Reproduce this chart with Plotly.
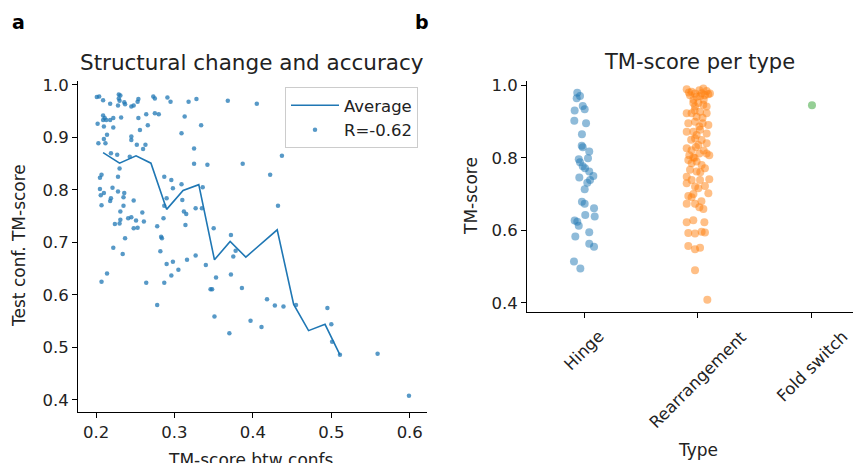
import plotly.graph_objects as go

# ---------------- Panel a data ----------------
tm_btw_confs = [
    0.201, 0.204, 0.209, 0.218, 0.229, 0.231, 0.229, 0.230, 0.228, 0.236, 0.237, 0.245, 0.248, 0.254, 0.253, 0.273, 0.275, 0.291, 0.295, 0.318, 0.328, 0.368, 0.405,
    0.209, 0.211, 0.209, 0.213, 0.218, 0.222, 0.232, 0.202, 0.210, 0.222, 0.254, 0.264, 0.275, 0.280, 0.266, 0.256, 0.313, 0.334, 0.309,
    0.214, 0.210, 0.212, 0.203, 0.245, 0.245, 0.252, 0.260, 0.263, 0.325,
    0.219, 0.227, 0.243, 0.325, 0.342, 0.387, 0.230, 0.437, 0.422,
    0.207, 0.205, 0.228, 0.287, 0.296, 0.298, 0.205, 0.210, 0.206, 0.221, 0.228, 0.236, 0.235, 0.219, 0.218, 0.207, 0.235, 0.248, 0.287, 0.290, 0.309, 0.310, 0.336, 0.432,
    0.231, 0.259, 0.241, 0.245, 0.251, 0.261, 0.224, 0.230, 0.231, 0.248, 0.253, 0.278, 0.286, 0.312, 0.315, 0.314, 0.327, 0.335, 0.350, 0.372,
    0.283, 0.284, 0.237, 0.222, 0.234, 0.282, 0.378, 0.375, 0.290, 0.298, 0.305, 0.296, 0.316, 0.327, 0.340, 0.214, 0.207, 0.264, 0.287, 0.353, 0.372,
    0.346, 0.348, 0.386, 0.278, 0.351, 0.370, 0.397, 0.411, 0.418, 0.428, 0.439, 0.455, 0.495, 0.500, 0.501, 0.511, 0.559, 0.599,
]
test_tm = [
    0.977, 0.978, 0.971, 0.964, 0.982, 0.980, 0.974, 0.970, 0.961, 0.967, 0.963, 0.959, 0.961, 0.973, 0.968, 0.978, 0.974, 0.976, 0.968, 0.968, 0.973, 0.970, 0.964,
    0.942, 0.937, 0.933, 0.933, 0.933, 0.937, 0.938, 0.926, 0.921, 0.919, 0.937, 0.944, 0.946, 0.944, 0.923, 0.914, 0.940, 0.923, 0.908,
    0.905, 0.897, 0.889, 0.889, 0.902, 0.895, 0.886, 0.878, 0.886, 0.879,
    0.870, 0.867, 0.863, 0.850, 0.848, 0.850, 0.841, 0.865, 0.829,
    0.829, 0.823, 0.825, 0.825, 0.819, 0.803, 0.802, 0.794, 0.790, 0.804, 0.797, 0.794, 0.786, 0.784, 0.779, 0.771, 0.770, 0.780, 0.770, 0.784, 0.811, 0.781, 0.805, 0.770,
    0.759, 0.757, 0.746, 0.748, 0.742, 0.740, 0.735, 0.736, 0.743, 0.727, 0.728, 0.731, 0.746, 0.759, 0.754, 0.733, 0.765, 0.765, 0.727, 0.714,
    0.711, 0.708, 0.708, 0.690, 0.678, 0.683, 0.684, 0.673, 0.659, 0.663, 0.648, 0.637, 0.667, 0.675, 0.657, 0.641, 0.625, 0.623, 0.623, 0.633, 0.639,
    0.611, 0.611, 0.613, 0.581, 0.559, 0.527, 0.551, 0.539, 0.592, 0.580, 0.578, 0.581, 0.575, 0.544, 0.511, 0.486, 0.488, 0.408,
]
avg_x = [0.209, 0.230, 0.251, 0.270, 0.290, 0.311, 0.331, 0.351, 0.371, 0.391, 0.431, 0.452, 0.471, 0.492, 0.511]
avg_y = [0.871, 0.851, 0.865, 0.851, 0.763, 0.799, 0.810, 0.667, 0.702, 0.672, 0.724, 0.582, 0.532, 0.544, 0.486]
r_label = "R=-0.62"

# ---------------- Panel b data ----------------
types = ["Hinge", "Rearrangement", "Fold switch"]
hinge_tm = [0.979, 0.970, 0.964, 0.943, 0.934, 0.930, 0.902, 0.895, 0.865, 0.833, 0.829, 0.817, 0.799, 0.796, 0.788,
            0.777, 0.771, 0.746, 0.762, 0.750, 0.739, 0.731, 0.713, 0.679, 0.673, 0.661, 0.638, 0.642, 0.627, 0.624,
            0.613, 0.595, 0.583, 0.563, 0.555, 0.514, 0.495]
hinge_jitter = [-0.059, -0.035, -0.064, -0.011, 0.006, -0.082, -0.085, 0.018, -0.018, -0.020, -0.011, 0.046, 0.035, -0.046, -0.035,
                -0.011, 0.009, -0.041, 0.046, 0.082, 0.053, 0.029, 0.006, -0.018, 0.006, 0.088, 0.094, 0.011, -0.082, -0.059,
                -0.046, 0.046, -0.076, 0.046, 0.088, -0.088, -0.032]
rearr_tm = [0.989, 0.982, 0.977, 0.986, 0.991, 0.984, 0.977, 0.972, 0.968, 0.972, 0.978, 0.960,
            0.951, 0.951, 0.946, 0.941, 0.941, 0.923, 0.923, 0.927, 0.923, 0.913,
            0.895, 0.899, 0.895, 0.890, 0.886, 0.872, 0.872, 0.877, 0.867, 0.863,
            0.853, 0.849, 0.840, 0.835, 0.826, 0.821, 0.830, 0.807, 0.801, 0.812, 0.812, 0.807,
            0.794, 0.785, 0.790, 0.780, 0.771, 0.767, 0.762, 0.748, 0.739, 0.739, 0.741,
            0.721, 0.722, 0.702, 0.730, 0.716, 0.695, 0.691, 0.673, 0.673, 0.664, 0.659,
            0.622, 0.628, 0.622, 0.593, 0.591, 0.596, 0.594, 0.557, 0.548, 0.552, 0.490, 0.409,
            0.975, 0.980, 0.970, 0.960, 0.930, 0.910, 0.850, 0.820, 0.800, 0.760, 0.700, 0.680]
rearr_jitter = [-0.099, -0.056, -0.026, 0.012, 0.047, 0.076, 0.105, 0.061, -0.012, -0.070, 0.032, -0.040,
                -0.041, 0.003, 0.047, 0.076, -0.026, -0.099, -0.056, 0.018, 0.076, -0.012,
                -0.085, -0.026, 0.041, 0.091, 0.012, -0.099, -0.041, 0.018, 0.076, -0.012,
                -0.026, 0.032, 0.076, 0.003, -0.099, -0.056, -0.018, -0.076, -0.041, 0.012, 0.076, 0.099,
                -0.085, -0.056, -0.012, 0.032, 0.061, -0.070, -0.012, -0.099, -0.056, 0.018, 0.099,
                -0.026, 0.061, 0.091, -0.099, 0.003, -0.085, -0.056, -0.099, -0.026, 0.012, 0.047,
                -0.099, -0.041, 0.056, -0.085, -0.026, 0.032, 0.061, -0.085, -0.026, 0.018, -0.026, 0.082,
                0.090, -0.080, 0.020, 0.050, -0.030, 0.040, -0.060, 0.050, -0.030, 0.020, -0.040, 0.030]
fold_tm = [0.945]
fold_jitter = [0.0]

BLUE, ORANGE, GREEN = "#1f77b4", "#ff7f0e", "#2ca02c"
FONT = "DejaVu Sans"
OFF = 8            # page body margin of the browser
W, H = 861 - OFF, 463 - OFF

def px(xs):
    return (xs - OFF) / W

def py(ys):
    return (H - (ys - OFF)) / H

fig = go.Figure()

fig.add_trace(go.Scatter(x=tm_btw_confs, y=test_tm, mode="markers", name=r_label,
                         marker=dict(color=BLUE, size=4.5, opacity=0.75, line=dict(width=0)),
                         xaxis="x", yaxis="y", legendrank=2))
fig.add_trace(go.Scatter(x=avg_x, y=avg_y, mode="lines", name="Average",
                         line=dict(color=BLUE, width=1.6),
                         xaxis="x", yaxis="y", legendrank=1))

fig.add_trace(go.Scatter(x=[0 + j for j in hinge_jitter], y=hinge_tm, mode="markers", showlegend=False,
                         marker=dict(color=BLUE, size=8, opacity=0.5, line=dict(width=0)),
                         xaxis="x2", yaxis="y2"))
fig.add_trace(go.Scatter(x=[1 + j for j in rearr_jitter], y=rearr_tm, mode="markers", showlegend=False,
                         marker=dict(color=ORANGE, size=8, opacity=0.5, line=dict(width=0)),
                         xaxis="x2", yaxis="y2"))
fig.add_trace(go.Scatter(x=[2 + j for j in fold_jitter], y=fold_tm, mode="markers", showlegend=False,
                         marker=dict(color=GREEN, size=8, opacity=0.5, line=dict(width=0)),
                         xaxis="x2", yaxis="y2"))

axis_common = dict(showline=True, linecolor="black", linewidth=1, ticks="outside", ticklen=5,
                   tickwidth=1, tickcolor="black", showgrid=False, zeroline=False,
                   tickfont=dict(family=FONT, size=16.5, color="#222"), automargin=False)

fig.update_layout(
    width=W, height=H,
    margin=dict(l=0, r=0, t=0, b=0),
    paper_bgcolor="white", plot_bgcolor="white",
    font=dict(family=FONT, color="#222"),
    xaxis=dict(domain=[px(78), px(427)], range=[0.177, 0.622],
               tickvals=[0.2, 0.3, 0.4, 0.5, 0.6], ticktext=["0.2", "0.3", "0.4", "0.5", "0.6"],
               **axis_common),
    yaxis=dict(domain=[py(412), py(81)], range=[0.377, 1.0075],
               tickvals=[0.4, 0.5, 0.6, 0.7, 0.8, 0.9, 1.0],
               ticktext=["0.4", "0.5", "0.6", "0.7", "0.8", "0.9", "1.0"],
               **axis_common),
    xaxis2=dict(domain=[px(527), 1.0], range=[-0.5, 2.43], tickvals=[0, 1, 2],
                showticklabels=False, anchor="y2", **axis_common),
    yaxis2=dict(domain=[py(312), py(81)], range=[0.375, 1.0116], tickvals=[0.4, 0.6, 0.8, 1.0],
                ticktext=["0.4", "0.6", "0.8", "1.0"], anchor="x2", **axis_common),
    legend=dict(x=px(418), xanchor="right", y=py(87), yanchor="top",
                bordercolor="#cccccc", borderwidth=1, bgcolor="white",
                font=dict(family=FONT, size=16.5, color="#222"), itemwidth=48,
                tracegroupgap=0),
    showlegend=True,
)

def note(text, xs, ys, size, angle=0, bold=False):
    return dict(text=f"<b>{text}</b>" if bold else text, x=px(xs), y=py(ys),
                xref="paper", yref="paper", xanchor="center", yanchor="middle",
                textangle=angle, showarrow=False,
                font=dict(family=FONT, size=size, color="black" if bold else "#222"))

ann = [
    note("a", 18, 22, 19, bold=True),
    note("b", 422, 22, 19, bold=True),
    note("Structural change and accuracy", 252, 62, 21.5),
    note("TM-score per type", 699, 62, 21),
    note("Test conf. TM-score", 19, 246, 17, angle=-90),
    note("TM-score", 471, 196, 17, angle=-90),
    note("TM-score btw confs.", 253, 460, 17),
    note("Type", 698, 450, 17),
]
for i, t in enumerate(types):
    ann.append(dict(text=t, x=i, y=py(324), xref="x2", yref="paper", xanchor="center", yanchor="top",
                    textangle=-45, showarrow=False, font=dict(family=FONT, size=16.5, color="#222")))
fig.update_layout(annotations=ann)

fig.write_html("out.html")
